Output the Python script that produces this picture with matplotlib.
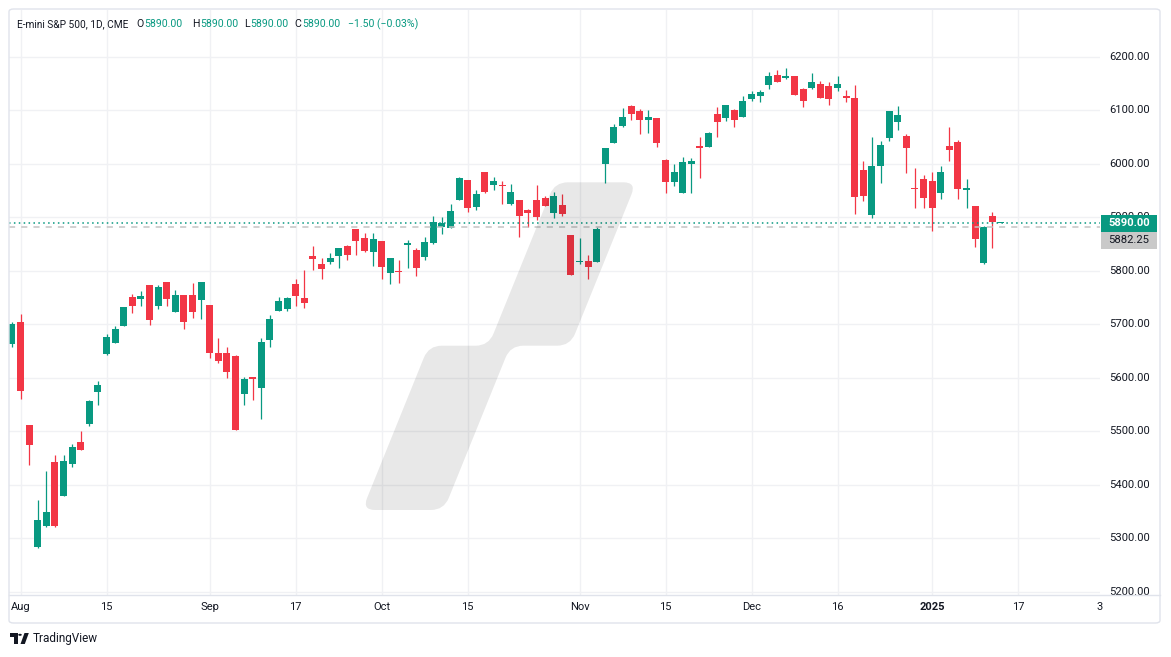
import numpy as np
import pandas as pd
import matplotlib
matplotlib.use("Agg")
import matplotlib.pyplot as plt
from matplotlib.patches import Rectangle, FancyBboxPatch, PathPatch, Circle, Polygon
from matplotlib.path import Path
from matplotlib.transforms import Affine2D, blended_transform_factory

plt.rcParams['font.family'] = ['Roboto', 'DejaVu Sans']

# ---------------- data ----------------
holidays = ['2024-09-02', '2024-11-28', '2024-12-25', '2025-01-01', '2025-01-09', '2025-01-20']
dates = [d for d in pd.bdate_range('2024-07-31', '2025-01-15').strftime('%Y-%m-%d') if d not in holidays]

opens = [5664.0, 5704.5, 5511.9, 5284.4, 5323.0, 5442.7, 5379.1, 5439.0, 5480.1, 5513.7,
         5573.6, 5645.3, 5665.2, 5697.0, 5751.2, 5747.5, 5773.7, 5734.4, 5779.3, 5723.2,
         5754.9, 5755.0, 5746.2, 5736.3, 5646.5, 5646.5, 5640.9, 5570.5, 5601.6, 5581.7,
         5671.4, 5725.7, 5729.4, 5775.5, 5749.3, 5827.9, 5812.9, 5817.3, 5828.5, 5846.6,
         5878.4, 5861.5, 5836.0, 5855.9, 5796.7, 5800.5, 5848.5, 5839.7, 5826.6, 5852.8,
         5882.7, 5880.9, 5933.2, 5970.0, 5920.1, 5985.0, 5961.3, 5961.3, 5925.7, 5932.6,
         5913.9, 5932.6, 5936.3, 5908.9, 5923.3, 5867.2, 5816.7, 5818.5, 5817.3, 6000.5,
         6039.8, 6071.0, 6108.4, 6099.0, 6081.0, 6086.0, 6007.4, 5966.9, 5946.3, 5999.9,
         6033.6, 6032.3, 6093.4, 6084.7, 6100.9, 6088.4, 6122.0, 6125.8, 6146.4, 6166.3,
         6161.3, 6164.4, 6140.7, 6142.6, 6149.5, 6145.7, 6142.6, 6126.4, 6123.3, 5988.7,
         5905.1, 5996.8, 6047.3, 6077.2, 6052.2, 5955.0, 5971.8, 5968.1, 5944.5, 6033.6,
         6041.1, 5951.9, 5921.4, 5815.4, 5902.7, 5890.0]
highs = [5703.8, 5719.4, 5512.5, 5371.6, 5425.9, 5455.8, 5455.8, 5477.0, 5500.6, 5558.6,
         5594.1, 5682.0, 5697.0, 5732.5, 5756.8, 5762.4, 5774.0, 5773.7, 5779.5, 5764.3,
         5755.0, 5777.4, 5779.3, 5736.5, 5674.6, 5657.7, 5642.8, 5601.6, 5602.0, 5674.6,
         5717.6, 5751.2, 5751.2, 5784.9, 5801.7, 5846.6, 5824.2, 5833.5, 5843.0, 5848.5,
         5878.5, 5870.9, 5870.9, 5856.0, 5824.1, 5821.0, 5857.8, 5843.5, 5864.0, 5902.7,
         5900.8, 5925.1, 5975.6, 5970.0, 5950.1, 5985.0, 5975.6, 5968.1, 5962.5, 5932.6,
         5915.8, 5960.7, 5940.1, 5947.6, 5943.8, 5867.5, 5861.5, 5829.8, 5882.1, 6030.0,
         6074.7, 6104.6, 6110.3, 6102.8, 6100.9, 6086.0, 6009.3, 5999.9, 6013.0, 6011.1,
         6050.4, 6059.8, 6106.5, 6110.5, 6102.8, 6127.1, 6136.4, 6138.3, 6171.9, 6175.6,
         6179.4, 6164.5, 6142.6, 6170.0, 6155.1, 6153.2, 6164.4, 6138.3, 6147.6, 6005.5,
         6050.4, 6042.9, 6099.0, 6108.3, 6056.0, 5992.4, 5979.3, 5985.0, 5996.2, 6069.1,
         6044.8, 5971.9, 5921.4, 5884.6, 5910.2, 5890.0]
lows = [5658.3, 5561.1, 5437.7, 5282.0, 5322.0, 5322.0, 5379.0, 5434.0, 5465.0, 5510.0,
        5549.3, 5643.4, 5665.0, 5697.0, 5721.3, 5734.4, 5698.9, 5728.8, 5734.4, 5723.0,
        5691.4, 5712.6, 5710.7, 5637.8, 5628.4, 5600.4, 5502.0, 5549.3, 5558.6, 5523.1,
        5657.7, 5725.0, 5725.7, 5734.4, 5730.6, 5801.7, 5784.9, 5813.5, 5806.1, 5821.0,
        5830.4, 5835.4, 5809.8, 5785.5, 5776.2, 5778.0, 5806.1, 5791.1, 5821.0, 5851.0,
        5869.7, 5880.9, 5933.0, 5910.8, 5914.5, 5945.7, 5950.1, 5925.7, 5923.9, 5864.0,
        5882.7, 5895.8, 5922.0, 5899.6, 5903.3, 5792.5, 5813.6, 5785.5, 5817.0, 5965.0,
        6039.8, 6069.1, 6081.0, 6054.8, 6058.5, 6030.5, 5944.5, 5959.4, 5944.5, 5946.3,
        5973.7, 6030.5, 6051.0, 6079.1, 6069.7, 6086.6, 6118.3, 6116.4, 6140.7, 6152.0,
        6159.4, 6127.7, 6107.1, 6140.7, 6123.9, 6110.8, 6137.0, 6114.6, 5907.0, 5931.3,
        5899.5, 5965.0, 6043.5, 6064.1, 5983.7, 5918.2, 5918.2, 5875.3, 5935.1, 6004.3,
        5935.1, 5918.3, 5845.3, 5813.5, 5843.5, 5890.0]
closes = [5700.0, 5576.1, 5475.1, 5334.2, 5349.2, 5323.0, 5444.6, 5470.7, 5465.1, 5556.7,
          5586.7, 5676.4, 5691.4, 5732.5, 5734.4, 5753.1, 5708.2, 5769.9, 5747.5, 5754.9,
          5704.5, 5723.8, 5779.3, 5647.1, 5632.2, 5611.6, 5502.5, 5597.9, 5597.9, 5667.1,
          5710.1, 5743.7, 5749.3, 5753.1, 5740.6, 5822.9, 5804.2, 5824.2, 5842.8, 5830.4,
          5856.6, 5837.2, 5859.7, 5807.9, 5824.1, 5798.6, 5852.2, 5806.1, 5854.7, 5891.5,
          5889.6, 5912.0, 5973.7, 5918.3, 5944.4, 5947.6, 5968.1, 5959.4, 5947.6, 5903.3,
          5908.9, 5901.4, 5922.0, 5940.1, 5907.1, 5793.0, 5818.5, 5808.0, 5878.4, 6029.8,
          6069.1, 6087.8, 6094.0, 6081.0, 6087.8, 6039.8, 5966.9, 5985.0, 6003.7, 6005.5,
          6029.8, 6057.9, 6077.2, 6110.3, 6081.0, 6117.7, 6130.8, 6134.5, 6164.4, 6153.8,
          6164.4, 6129.5, 6118.3, 6153.2, 6123.9, 6120.2, 6149.5, 6123.9, 5938.8, 5940.7,
          5996.2, 6035.4, 6099.0, 6091.5, 6028.6, 5953.8, 5936.9, 5918.3, 5985.0, 6026.7,
          5953.8, 5955.7, 5860.3, 5882.7, 5891.5, 5890.0]

tick_dates = ['2024-08-01', '2024-08-15', '2024-09-03', '2024-09-17', '2024-10-01', '2024-10-15',
              '2024-11-01', '2024-11-15', '2024-12-02', '2024-12-16', '2025-01-02', '2025-01-17',
              '2025-02-03']
tick_labels = ['Aug', '15', 'Sep', '17', 'Oct', '15', 'Nov', '15', 'Dec', '16', '2025', '17', '3']
price_ticks = [5200, 5300, 5400, 5500, 5600, 5700, 5800, 5900, 6000, 6100, 6200]
last_price = 5890.00
prev_line = 5882.25

# ---------------- layout ----------------
W, H = 1171, 657
GREEN = '#089981'
RED = '#F23645'
TXT = '#131722'
GRID = '#f0f1f4'
BORDER = '#e0e3eb'

fig = plt.figure(figsize=(W / 100, H / 100), dpi=100)
fig.patch.set_facecolor('white')

def fx(x):
    return x / W

def fy(y):
    return 1 - y / H

pix = Affine2D().scale(1 / W, -1 / H).translate(0, 1) + fig.transFigure

L, R, T, B = 9, 1100, 10, 595
ax = fig.add_axes([fx(L), fy(B), fx(R) - fx(L), fy(T) - fy(B)])
for s in ax.spines.values():
    s.set_visible(False)
ax.set_facecolor('white')

# x positions: trading-day index, Aug 1 = 0
base = dates.index('2024-08-01')
xs = np.arange(len(dates)) - base
all_days = [d for d in pd.bdate_range('2024-07-31', '2025-02-07').strftime('%Y-%m-%d') if d not in holidays]
tick_x = [all_days.index(d) - base for d in tick_dates]

step = 8.6
x0 = 20.5
ax.set_xlim((L - x0) / step, (R - x0) / step)
ymin = 5200 - (595 - 591.8) / 0.535
ymax = 6200 + (56.8 - 10) / 0.535
ax.set_ylim(ymin, ymax)
ax.set_xticks([])
ax.set_yticks([])

# grid
for p in price_ticks:
    ax.axhline(p, color=GRID, lw=1, zorder=0)
for tx in tick_x:
    ax.axvline(tx, color=GRID, lw=1, zorder=0)

# candles
o = np.array(opens); h = np.array(highs); lo = np.array(lows); c = np.array(closes)
cols = np.where(c < o, RED, GREEN)
ax.vlines(xs, lo, h, colors=cols, lw=0.9, zorder=2)
bottoms = np.minimum(o, c)
heights = np.maximum(np.abs(c - o), 1.9)
ax.bar(xs, heights, bottom=bottoms, width=0.81, color=cols, linewidth=0, zorder=3)

# last price lines
ax.axhline(last_price, color=GREEN, lw=1.1, linestyle=(0, (1, 2.2)), zorder=4)
ax.axhline(prev_line, color='#c3c3c3', lw=1.1, linestyle=(0, (4, 4)), zorder=4)

# watermark
def rounded_path(pts, r):
    n = len(pts)
    verts, codes = [], []
    pts = [np.array(p, float) for p in pts]
    for i in range(n):
        A, V, Bp = pts[i - 1], pts[i], pts[(i + 1) % n]
        u1 = (A - V) / np.linalg.norm(A - V)
        u2 = (Bp - V) / np.linalg.norm(Bp - V)
        p1 = V + u1 * r
        p2 = V + u2 * r
        if i == 0:
            verts.append(p1); codes.append(Path.MOVETO)
        else:
            verts.append(p1); codes.append(Path.LINETO)
        verts += [V, p2]; codes += [Path.CURVE3, Path.CURVE3]
    verts.append(verts[0]); codes.append(Path.CLOSEPOLY)
    return Path(verts, codes)

wm_pts = [(362.2, 510), (443.9, 510), (510.4, 345.7), (570.2, 345.7),
          (636.4, 182.3), (554.8, 182.3), (488.6, 345.7), (428.7, 345.7)]
wm = PathPatch(rounded_path(wm_pts, 13), facecolor='black', edgecolor='none',
               alpha=0.09, transform=pix, zorder=6)
ax.add_patch(wm)

# outer frame
frame = FancyBboxPatch((fx(9), fy(623)), fx(1160) - fx(9), fy(9) - fy(623),
                       boxstyle='round,pad=0,rounding_size=0.004', transform=fig.transFigure,
                       facecolor='none', edgecolor=BORDER, lw=1, zorder=20)
fig.patches.append(frame)

# price labels (5900 is mostly hidden behind the last-price tag)
ptrans = blended_transform_factory(ax.transAxes, ax.transData)
for p in price_ticks:
    t = ax.text(1.0 + (1109.3 - R) / (R - L), p, f'{p:.2f}', transform=ptrans,
                ha='left', va='center', fontsize=8.1, color=TXT, clip_on=False, zorder=5)

# time-axis panel (covers bottom)
fig.patches.append(Rectangle((fx(9.5), fy(622.5)), fx(1159.5) - fx(9.5), fy(595) - fy(622.5),
                             transform=fig.transFigure, facecolor='white', edgecolor='none', zorder=10))
fig.add_artist(plt.Line2D([fx(9), fx(1160)], [fy(595), fy(595)], color=BORDER, lw=1, zorder=11))
for tx, lab in zip(tick_x, tick_labels):
    px = x0 + tx * step
    if px < 1106:
        fig.text(fx(min(px, 1100)), fy(607.5), lab, ha='center', va='center', fontsize=8, color=TXT,
                 fontweight='bold' if lab == '2025' else 'normal', zorder=12)

# last price tags
fig.patches.append(Rectangle((fx(1101), fy(232)), fx(1157) - fx(1101), fy(215) - fy(232),
                             transform=fig.transFigure, facecolor=GREEN, edgecolor='none', zorder=12))
fig.patches.append(Rectangle((fx(1101), fy(248.6)), fx(1157) - fx(1101), fy(232) - fy(248.6),
                             transform=fig.transFigure, facecolor='#c9c9c9', edgecolor='none', zorder=12))
fig.text(fx(1129), fy(223.5), f'{last_price:.2f}', ha='center', va='center', fontsize=8.1,
         color='white', fontweight='bold', zorder=13)
fig.text(fx(1129), fy(240.3), f'{prev_line:.2f}', ha='center', va='center', fontsize=8.1,
         color=TXT, zorder=13)

# header
hy = fy(24)
fig.text(fx(17.3), hy, 'E-mini S&P 500, 1D, CME', ha='left', va='center', fontsize=7.3, color=TXT, zorder=13)
for lab, vx in [('O', 144.5), ('H', 200.5), ('L', 250), ('C', 302)]:
    fig.text(fx(vx - 0.6), hy, lab, ha='right', va='center', fontsize=7.6, color=TXT, zorder=13)
    fig.text(fx(vx), hy, f'{last_price:.2f}', ha='left', va='center', fontsize=7.6, color=GREEN, zorder=13)
fig.text(fx(348.3), hy, '\u22121.50 (\u22120.03%)', ha='left', va='center', fontsize=7.6, color=GREEN, zorder=13)

# TradingView logo
fig.patches.append(Polygon([(fx(10), fy(633)), (fx(17.5), fy(633)), (fx(17.5), fy(644)),
                            (fx(14), fy(644)), (fx(14), fy(636.5)), (fx(10), fy(636.5))],
                           closed=True, transform=fig.transFigure, facecolor=TXT, edgecolor='none', zorder=12))
fig.patches.append(Circle((fx(20), fy(634.8)), 1.8 / W, transform=fig.transFigure,
                          facecolor=TXT, edgecolor='none', zorder=12))
fig.patches.append(Polygon([(fx(24.5), fy(633)), (fx(28.8), fy(633)), (fx(24.8), fy(644)),
                            (fx(20.5), fy(644))],
                           closed=True, transform=fig.transFigure, facecolor=TXT, edgecolor='none', zorder=12))
fig.text(fx(33), fy(638.5), 'TradingView', ha='left', va='center', fontsize=8.5, color=TXT, zorder=12)

fig.savefig('out.png', dpi=100, facecolor='white')
